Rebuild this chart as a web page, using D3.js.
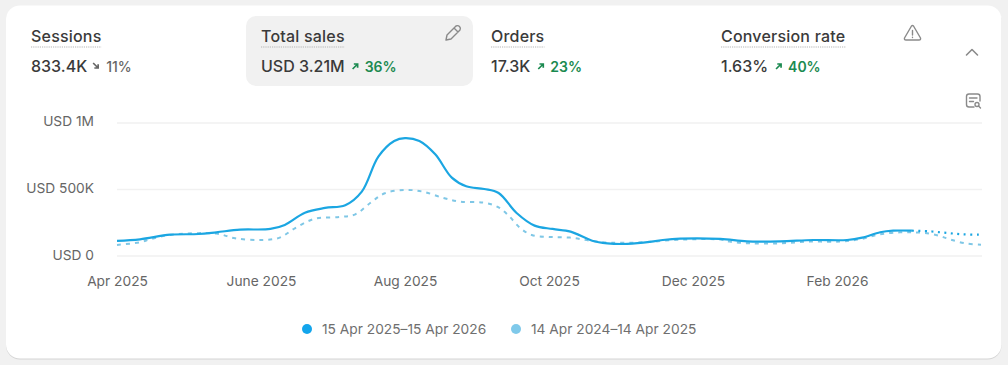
<!DOCTYPE html>
<html lang="en">

<head>
    <meta charset="UTF-8">
    <title>Total sales</title>
    <script src="https://d3js.org/d3.v7.min.js"></script>
    <style>
        html, body { margin: 0; padding: 0; background: #f1f1f1; overflow: hidden; }
        svg { display: block; font-family: Inter, "Noto Sans", sans-serif; }
    </style>
</head>

<body>
    <script>
        // months since Apr 2025, sales in USD
        const currentMonths = [0, 0.32, 0.74, 1.13, 1.38, 1.71, 2.13, 2.33, 2.61, 2.89, 3.17, 3.4, 3.63, 3.85, 4, 4.2, 4.42, 4.65, 4.85, 5.1, 5.3, 5.55, 5.8, 6.05, 6.3, 6.6, 6.81, 7.03, 7.31, 7.58, 7.82, 8.38, 8.75, 9.21, 9.67, 10.14, 10.35, 10.6, 10.78, 11.04, 11.29, 11.53, 11.75, 12]
        const currentSales = [110, 122, 157, 162, 175, 195, 200, 230, 322, 358, 378, 480, 743, 860, 882, 860, 760, 585, 520, 500, 470, 320, 225, 200, 180, 112, 92, 87, 97, 117, 127, 125, 107, 107, 117, 117, 135, 175, 187, 187, 182, 170, 160, 157].map(d => d * 1000)
        const partialFromMonth = 11.04

        const priorMonths = [0, 0.32, 0.46, 0.74, 1.38, 1.64, 2.01, 2.26, 2.47, 2.75, 3.1, 3.31, 3.54, 3.72, 4, 4.25, 4.53, 4.76, 5.08, 5.28, 5.43, 5.6, 5.76, 6.01, 6.29, 6.57, 6.85, 7.31, 7.82, 8.38, 8.51, 8.79, 9.21, 9.62, 10.04, 10.32, 10.6, 10.875, 11.04, 11.22, 11.43, 11.57, 11.78, 12]
        const priorSales = [80, 100, 122, 155, 165, 130, 117, 135, 205, 277, 290, 310, 405, 468, 493, 480, 433, 405, 398, 368, 305, 207, 155, 140, 135, 112, 97, 100, 120, 120, 105, 92, 92, 105, 105, 123, 160, 175, 175, 170, 147, 122, 92, 82].map(d => d * 1000)

        const yTicks = [0, 500000, 1000000]
        const yTickLabels = ["USD 0", "USD 500K", "USD 1M"]
        const xTicks = [0, 2, 4, 6, 8, 10]
        const xTickLabels = ["Apr 2025", "June 2025", "Aug 2025", "Oct 2025", "Dec 2025", "Feb 2026"]
        const legendLabels = ["15 Apr 2025\u201315 Apr 2026", "14 Apr 2024\u201314 Apr 2025"]

        const metricNames = ["Sessions", "Total sales", "Orders", "Conversion rate"]
        const metricValues = ["833.4K", "USD 3.21M", "17.3K", "1.63%"]
        const metricChanges = ["11%", "36%", "23%", "40%"]
        const metricUp = [false, true, true, true]

        const currentColor = "#1ba6e2"
        const priorColor = "#7fc7e6"

        const svg = d3.select("body").append("svg")
            .attr("width", 1008)
            .attr("height", 365)

        // card
        svg.append("rect")
            .attr("x", 6).attr("y", 5.5)
            .attr("width", 995.5).attr("height", 353)
            .attr("rx", 14)
            .attr("fill", "#fff")
            .style("filter", "drop-shadow(0 1px 0 #d4d4d4)")

        svg.append("rect")
            .attr("x", 246).attr("y", 16)
            .attr("width", 227).attr("height", 70)
            .attr("rx", 10)
            .attr("fill", "#f1f1f1")

        // metric tiles
        const tileX = [31, 261, 491, 721]
        const tile = svg.selectAll(".tile")
            .data(metricNames)
            .enter()
            .append("g")
            .attr("class", "tile")
            .attr("transform", (d, i) => "translate(" + tileX[i] + ",0)")

        const names = tile.append("text")
            .attr("y", 41.5)
            .attr("fill", "#3a3a3a")
            .attr("font-size", 16)
            .attr("font-weight", 500)
            .attr("letter-spacing", 0.2)
            .text(d => d)

        tile.append("line")
            .attr("y1", 47).attr("y2", 47)
            .attr("x1", 0)
            .attr("x2", function (d, i) { return names.nodes()[i].getComputedTextLength() })
            .attr("stroke", "#b5b5b5")
            .attr("stroke-width", 1.2)
            .attr("stroke-dasharray", "1.2 1")

        const values = tile.append("text")
            .attr("y", 72.3)
            .attr("fill", "#3a3a3a")
            .attr("font-size", 16)
            .attr("font-weight", 500)
            .text((d, i) => metricValues[i])

        tile.each(function (d, i) {
            const g = d3.select(this)
            const w = values.nodes()[i].getComputedTextLength()
            const up = metricUp[i]
            const color = up ? "#1b8a50" : "#666"
            const ax = w + (up ? 7 : 5)
            g.append("path")
                .attr("transform", "translate(" + ax + ",63)" + (up ? "" : " scale(1,-1) translate(0,-6)"))
                .attr("d", "M1 6 L6 1 M2.2 1 H6 V4.8")
                .attr("fill", "none")
                .attr("stroke", color)
                .attr("stroke-width", 1.7)
            g.append("text")
                .attr("x", w + (up ? 20 : 19))
                .attr("y", 72.3)
                .attr("fill", color)
                .attr("font-size", 14)
                .attr("font-weight", up ? 600 : 500)
                .text(metricChanges[i])
        })

        // icons
        const icons = svg.append("g")
            .attr("fill", "none")
            .attr("stroke", "#8a8a8a")
            .attr("stroke-width", 1.4)
            .attr("stroke-linejoin", "round")
            .attr("stroke-linecap", "round")
        icons.append("path").attr("d", "M446 40 L447 35 L456 26 Q458 25 459.5 26.5 Q461 28 460 30 L451 39 Z M454 28 L458 32")
        icons.append("path").attr("d", "M911.5 26 Q912.5 25 913.5 26 L920.5 38 Q921 40 919 40 H906 Q904 40 904.5 38 Z M912.5 30.5 V35 M912.5 37.2 V37.6")
        icons.append("path").attr("d", "M966.5 55 L972 49.5 L977.5 55").attr("stroke-width", 1.6)
        icons.append("path").attr("d", "M974 107 H969 Q966.5 107 966.5 104.5 V96.5 Q966.5 94 969 94 H977.5 Q980 94 980 96.5 V101 M969.5 98 H977 M969.5 101.5 H973.5")
        icons.append("circle").attr("cx", 977).attr("cy", 104.5).attr("r", 2)
        icons.append("path").attr("d", "M978.5 106 L980.5 108")

        // chart
        const x = d3.scaleLinear().domain([0, 12]).range([117, 981])
        const y = d3.scaleLinear().domain([0, 1000000]).range([255.6, 122.4])

        const gridAxis = svg.append("g")
            .attr("transform", "translate(117,0)")
            .call(d3.axisLeft(y)
                .tickValues(yTicks)
                .tickSize(-865)
                .tickPadding(23)
                .tickFormat((d, i) => yTickLabels[i]))
        gridAxis.select(".domain").remove()
        gridAxis.selectAll("line").attr("stroke", "#f1f1f1").attr("stroke-width", 1.5)
        gridAxis.selectAll("text")
            .attr("fill", "#666")
            .attr("font-family", "Inter")
            .attr("font-size", 13.75)
            .attr("dy", "0.25em")

        const xAxis = svg.append("g")
            .attr("transform", "translate(0,271)")
            .call(d3.axisBottom(x)
                .tickValues(xTicks)
                .tickSize(0)
                .tickPadding(5)
                .tickFormat((d, i) => xTickLabels[i]))
        xAxis.select(".domain").remove()
        xAxis.selectAll("text")
            .attr("fill", "#666")
            .attr("font-family", "Inter")
            .attr("font-size", 13.75)

        const line = d3.line()
            .x(d => x(d.month))
            .y(d => y(d.sales))
            .curve(d3.curveCatmullRom.alpha(0.5))

        const prior = priorMonths.map((m, i) => ({ month: m, sales: priorSales[i] }))
        const current = currentMonths.map((m, i) => ({ month: m, sales: currentSales[i] }))

        svg.append("path")
            .attr("d", line(prior))
            .attr("fill", "none")
            .attr("stroke", priorColor)
            .attr("stroke-width", 2)
            .attr("stroke-dasharray", "4 5")

        svg.append("path")
            .attr("d", line(current.filter(d => d.month <= partialFromMonth)))
            .attr("fill", "none")
            .attr("stroke", currentColor)
            .attr("stroke-width", 2.2)

        svg.append("path")
            .attr("d", line(current.filter(d => d.month >= partialFromMonth)))
            .attr("fill", "none")
            .attr("stroke", currentColor)
            .attr("stroke-width", 2.2)
            .attr("stroke-dasharray", "2 4.5")

        // legend
        const legendX = [307, 516]
        const legendColors = ["#13a5ec", "#7fc9ea"]
        const legend = svg.selectAll(".legend")
            .data(legendLabels)
            .enter()
            .append("g")
            .attr("class", "legend")
            .attr("transform", (d, i) => "translate(" + legendX[i] + ",329)")
        legend.append("circle")
            .attr("r", 5)
            .attr("fill", (d, i) => legendColors[i])
        legend.append("text")
            .attr("x", 15)
            .attr("dy", "0.35em")
            .attr("fill", "#6f6f6f")
            .attr("font-size", 13.75)
            .text(d => d)
    </script>
</body>
</html>
